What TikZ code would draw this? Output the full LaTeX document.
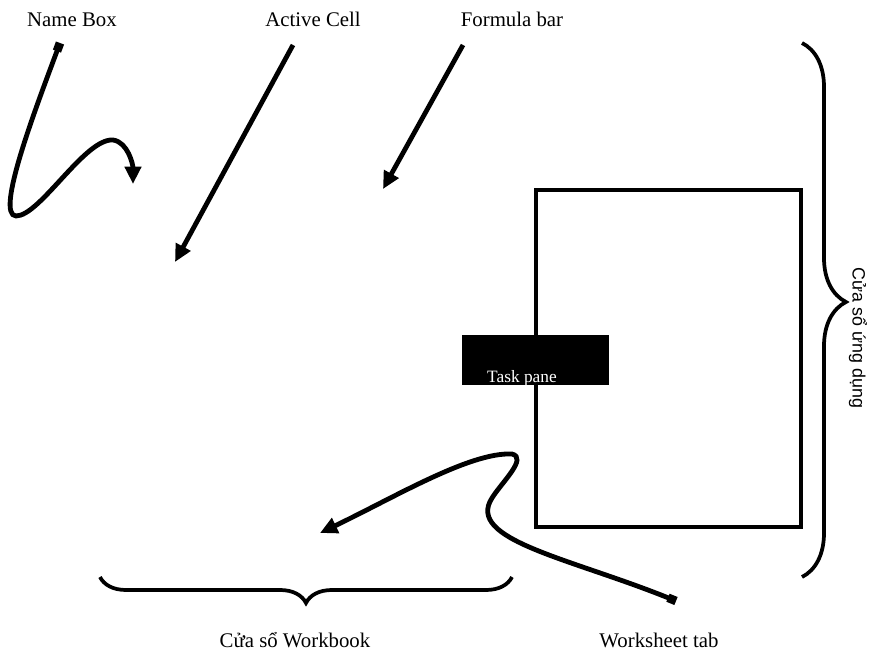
\documentclass[tikz,border=0pt]{standalone}
\usepackage{fontspec}
\setmainfont{Liberation Serif}
\newfontfamily\sansvn{Liberation Sans}
\usetikzlibrary{arrows.meta,decorations.pathreplacing}

\begin{document}
\begin{tikzpicture}[
    x=0.75pt,y=-0.75pt,
    lbl/.style={font=\fontsize{15.6}{18}\selectfont,inner sep=0pt,anchor=base},
    pointer/.style={line width=3.6pt,-{Triangle[length=13pt,width=12pt]}},
    tagged/.style={line width=3.6pt,{Square[length=6.5pt,width=6.5pt]}-{Triangle[length=13pt,width=12pt]}},
    bracket/.style={line width=2.8pt,decorate}
    ]

    \useasboundingbox (0,0) rectangle (874,655);

    % labels
    \node (namebox) [lbl] at (72,27) {Name Box};
    \node (activecell) [lbl] at (313,27) {Active Cell};
    \node (formulabar) [lbl] at (512,27) {Formula bar};
    \node (workbook) [lbl] at (295,647) {Cửa sổ Workbook};
    \node (sheettab) [lbl] at (659,647) {Worksheet tab};
    \node (appwin) [font=\sansvn\fontsize{13.4}{16}\selectfont,rotate=-90,inner sep=0pt] at (858,338) {Cửa sổ ứng dụng};

    % window and task pane
    \node (window) [draw,line width=3.6pt,inner sep=0pt,minimum width=198.75pt,minimum height=252.75pt] at (668.5,358.5) {};
    \node (taskbox) [fill=black,inner sep=0pt,minimum width=110.25pt,minimum height=37.5pt] at (535.5,360) {};
    \node (taskpane) [white,font=\fontsize{13}{15}\selectfont,inner sep=0pt,anchor=base] at (522,383) {Task pane};

    % arrows
    \coordinate (nb from) at (60,43);
    \coordinate (nb to) at (133,184);
    \draw[tagged] (nb from) .. controls (35,110) and (-5,215) .. (16,216)
      .. controls (40,216) and (85,138) .. (113,140)
      .. controls (128,142) and (133,165) .. (nb to);

    \coordinate (ac from) at (293,45);
    \coordinate (ac to) at (175,262);
    \draw[pointer] (ac from) -- (ac to);

    \coordinate (fb from) at (463,45);
    \coordinate (fb to) at (383,189);
    \draw[pointer] (fb from) -- (fb to);

    \coordinate (ws from) at (676,601);
    \coordinate (ws to) at (320,533);
    \draw[tagged] (ws from) .. controls (570,558) and (465,540) .. (492,498)
      .. controls (502,482) and (528,458) .. (512,454)
      .. controls (470,452) and (395,497) .. (ws to);

    % braces
    \coordinate (wb right) at (512,577);
    \coordinate (wb left) at (100,577);
    \draw[bracket,decoration={brace,amplitude=19.5pt}] (wb right) -- (wb left);

    \coordinate (app top) at (802,43);
    \coordinate (app bottom) at (802,577);
    \draw[bracket,decoration={brace,amplitude=33pt,aspect=0.485}] (app top) -- (app bottom);

  \end{tikzpicture}
\end{document}
